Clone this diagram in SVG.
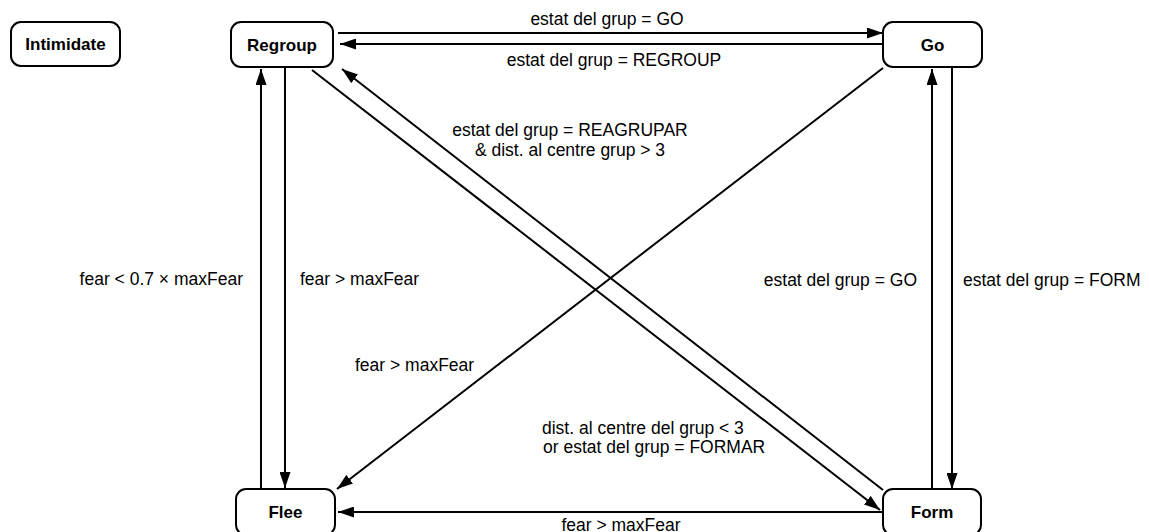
<svg xmlns="http://www.w3.org/2000/svg" width="1149" height="532" viewBox="0 0 1149 532">
  <style>
    .state rect { fill: #ffffff; stroke: #000000; stroke-width: 2; }
    .state text { font-family: "Liberation Sans", Arial, sans-serif; font-weight: bold; font-size: 17px; text-anchor: middle; fill: #000000; }
    .edge { fill: none; stroke: #000000; stroke-width: 2; }
    .lbl { font-family: "Liberation Sans", Arial, sans-serif; font-size: 17.5px; fill: #000000; }
    .c { text-anchor: middle; }
    .e { text-anchor: end; }
  </style>
  <defs>
    <marker id="arrow" markerWidth="16" markerHeight="11" refX="16" refY="5.5" orient="auto" markerUnits="userSpaceOnUse">
      <path d="M0,0 L16,5.5 L0,11 z" fill="#000000"/>
    </marker>
  </defs>
  <rect width="1149" height="532" fill="#ffffff"/>

  <!-- transitions -->
  <g id="connectors">
    <path class="edge" d="M338,33 H883" marker-end="url(#arrow)"/>
    <path class="edge" d="M883,44 H340" marker-end="url(#arrow)"/>
    <path class="edge" d="M261,489 V69" marker-end="url(#arrow)"/>
    <path class="edge" d="M285,67 V488" marker-end="url(#arrow)"/>
    <path class="edge" d="M932,489 V69" marker-end="url(#arrow)"/>
    <path class="edge" d="M952,67 V489" marker-end="url(#arrow)"/>
    <path class="edge" d="M312,70 L880,510" marker-end="url(#arrow)"/>
    <path class="edge" d="M883,490 L342,69" marker-end="url(#arrow)"/>
    <path class="edge" d="M883,68 L337,489" marker-end="url(#arrow)"/>
    <path class="edge" d="M883,512 H338" marker-end="url(#arrow)"/>
  </g>

  <!-- transition labels -->
  <g id="labels">
    <text class="lbl c" x="607" y="25">estat del grup = GO</text>
    <text class="lbl c" x="614" y="66">estat del grup = REGROUP</text>
    <text class="lbl c" x="570" y="136">estat del grup = REAGRUPAR</text>
    <text class="lbl c" x="570" y="156">&amp; dist. al centre grup &gt; 3</text>
    <text class="lbl e" x="243" y="285">fear &lt; 0.7 × maxFear</text>
    <text class="lbl" x="300" y="285">fear &gt; maxFear</text>
    <text class="lbl e" x="917" y="286">estat del grup = GO</text>
    <text class="lbl" x="963" y="286">estat del grup = FORM</text>
    <text class="lbl" x="355" y="371">fear &gt; maxFear</text>
    <text class="lbl" x="542" y="434">dist. al centre del grup &lt; 3</text>
    <text class="lbl" x="543" y="453">or estat del grup = FORMAR</text>
    <text class="lbl c" x="621" y="531">fear &gt; maxFear</text>
  </g>

  <!-- states -->
  <g id="intimidate" class="state">
    <rect x="11" y="22" width="109" height="44" rx="10"/>
    <text x="65.5" y="50">Intimidate</text>
  </g>
  <g id="regroup" class="state">
    <rect x="231" y="22" width="102" height="45" rx="10"/>
    <text x="282" y="51">Regroup</text>
  </g>
  <g id="go" class="state">
    <rect x="883" y="22" width="99" height="45" rx="10"/>
    <text x="932.5" y="51">Go</text>
  </g>
  <g id="flee" class="state">
    <rect x="236" y="489" width="99" height="46" rx="10"/>
    <text x="285.5" y="518">Flee</text>
  </g>
  <g id="form" class="state">
    <rect x="883" y="489" width="98" height="46" rx="10"/>
    <text x="932" y="518">Form</text>
  </g>
</svg>
